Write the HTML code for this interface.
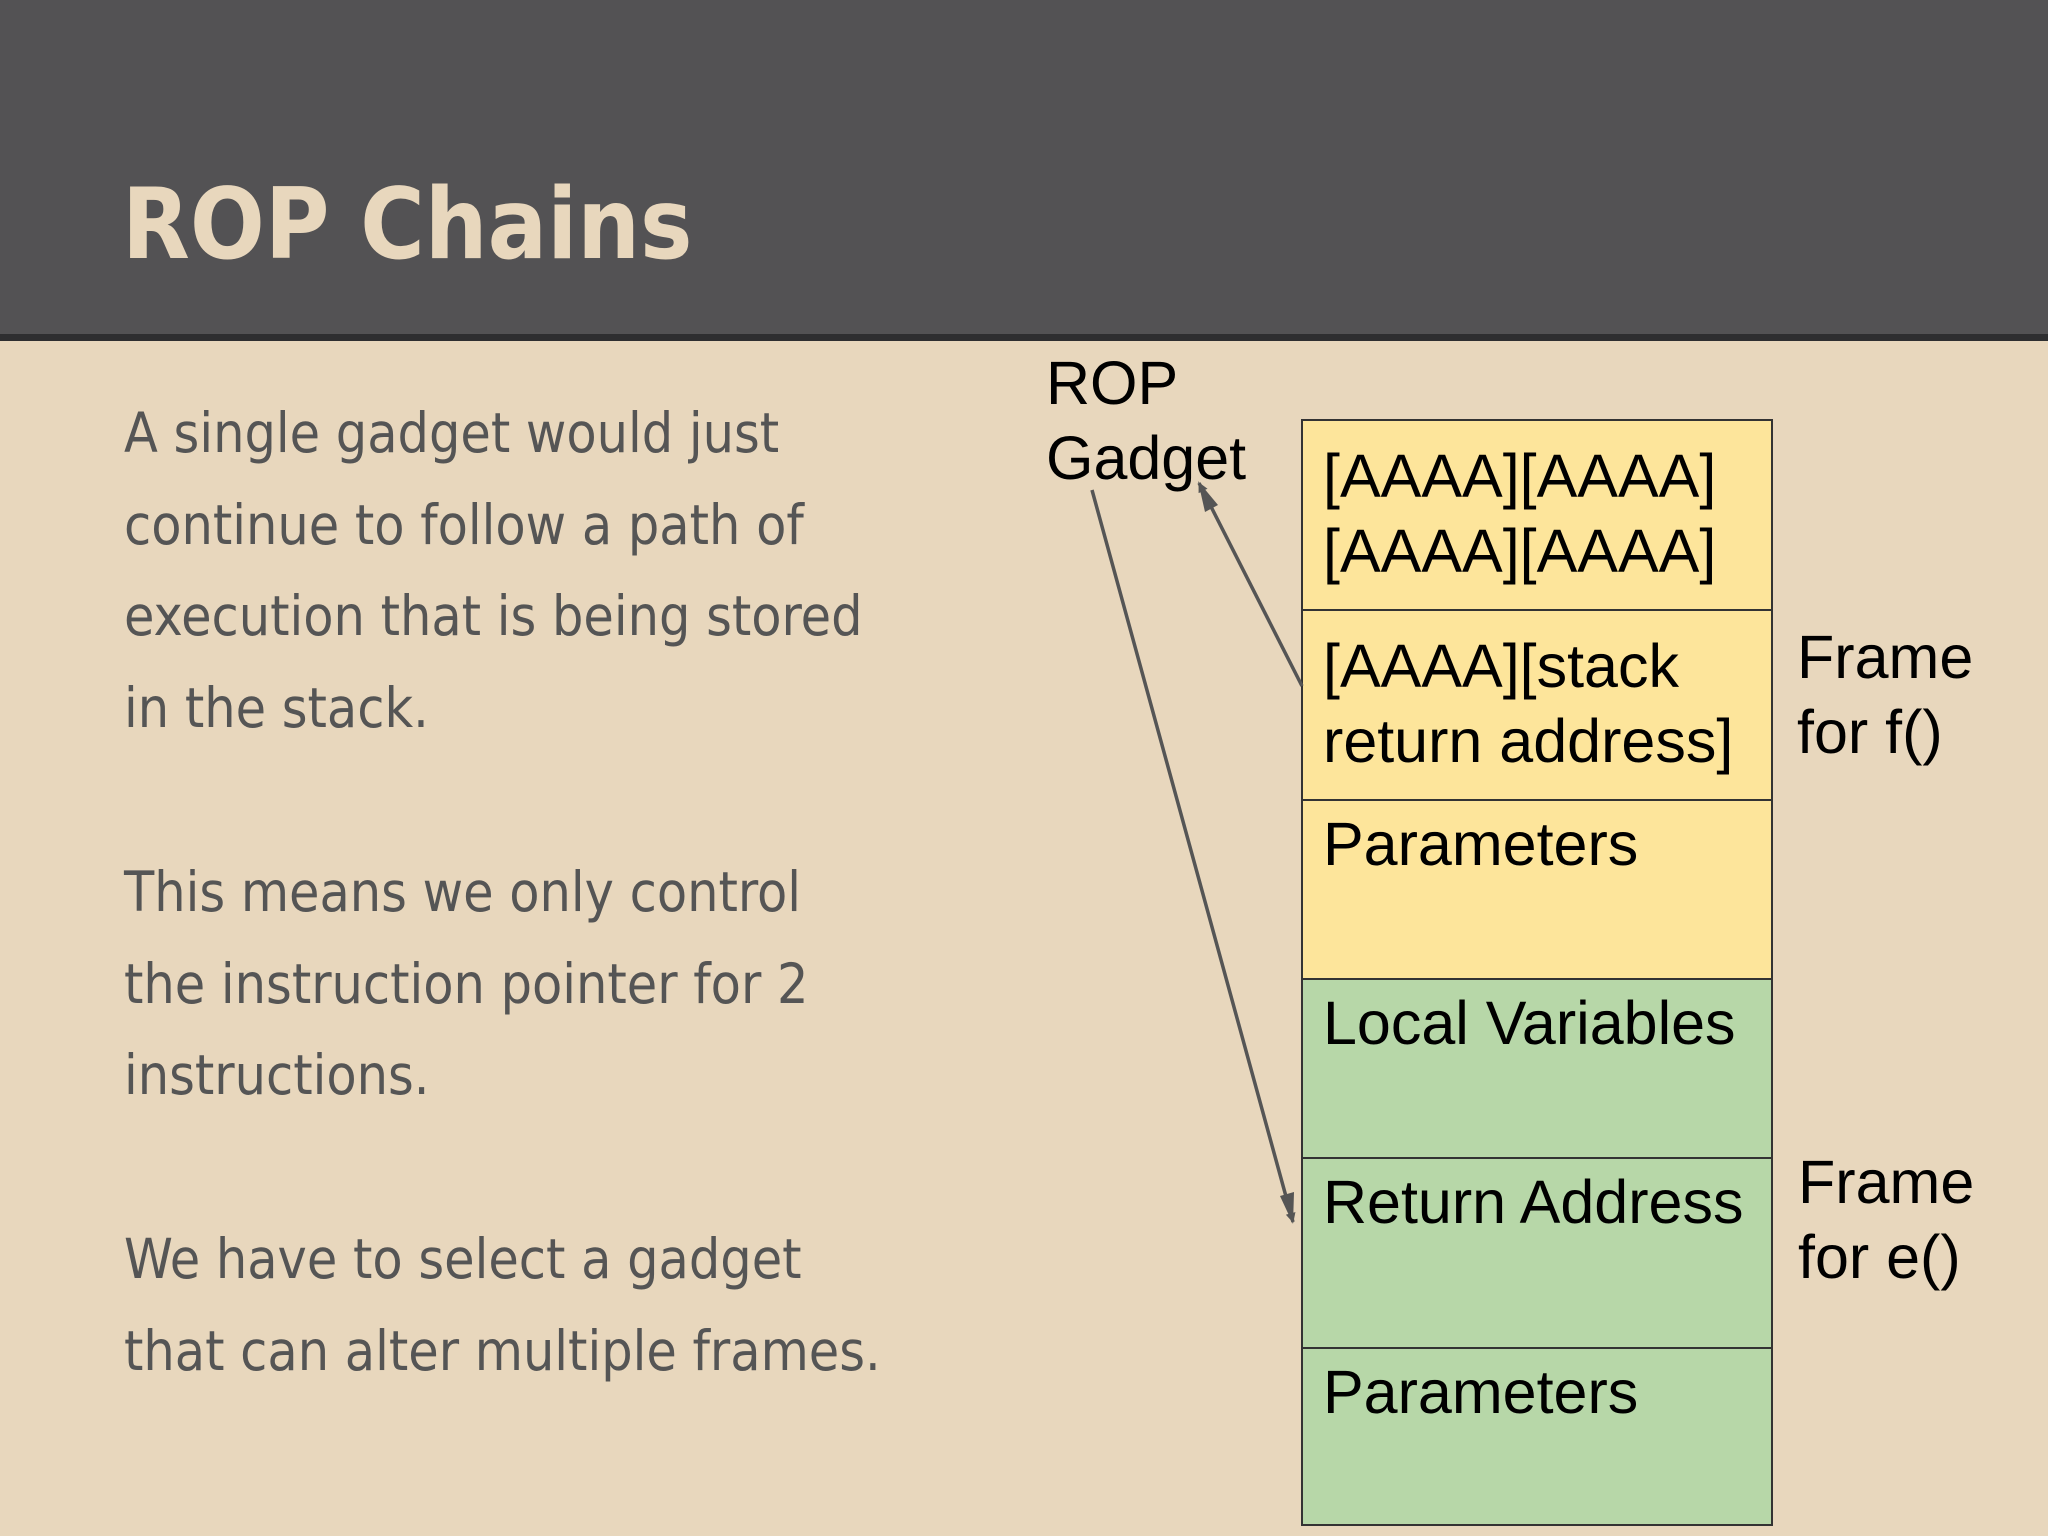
<!DOCTYPE html>
<html><head><style>
body{margin:0;width:2048px;height:1536px;background:#e8d7bd;position:relative;overflow:hidden}
.hdr{position:absolute;left:0;top:0;width:2048px;height:334px;background:#535254;border-bottom:7px solid #2e2e30}
.t{position:absolute;left:122px;top:176px;font:bold 98px "DejaVu Sans Condensed","DejaVu Sans",sans-serif;color:#e8d7bd;line-height:1}
.p{position:absolute;left:124px;font:55px "DejaVu Sans Condensed","DejaVu Sans",sans-serif;color:#555;line-height:91.5px;white-space:nowrap}
.b{position:absolute;left:1301px;width:472px;border:2px solid #333;box-sizing:border-box;font:61px "Liberation Sans",Arial,sans-serif;color:#000;padding:18px 0 0 20px;line-height:75px}
.y{background:#fde59b}.g{background:#b7d7a8}
.l{position:absolute;font:61px "Liberation Sans",Arial,sans-serif;color:#000;line-height:75px;white-space:nowrap}
</style></head><body>
<div class="hdr"></div>
<div class="t">ROP Chains</div>
<div class="p" style="top:388px">A single gadget would just<br>continue to follow a path of<br>execution that is being stored<br>in the stack.</div>
<div class="p" style="top:847px">This means we only control<br>the instruction pointer for 2<br>instructions.</div>
<div class="p" style="top:1214px">We have to select a gadget<br>that can alter multiple frames.</div>
<div class="b y" style="top:419px;height:192px">[AAAA][AAAA]<br>[AAAA][AAAA]</div>
<div class="b y" style="top:609px;height:192px">[AAAA][stack<br>return address]</div>
<div class="b y" style="top:799px;height:181px;padding-top:6px">Parameters</div>
<div class="b g" style="top:978px;height:181px;padding-top:6px">Local Variables</div>
<div class="b g" style="top:1157px;height:192px;padding-top:6px">Return Address</div>
<div class="b g" style="top:1347px;height:179px;padding-top:6px">Parameters</div>
<div class="l" style="left:1046px;top:346px">ROP<br>Gadget</div>
<div class="l" style="left:1797px;top:620px">Frame<br>for f()</div>
<div class="l" style="left:1798px;top:1145px">Frame<br>for e()</div>
<svg width="2048" height="1536" style="position:absolute;left:0;top:0">
<defs><marker id="a" markerWidth="10" markerHeight="10" refX="9" refY="5" orient="auto" markerUnits="userSpaceOnUse" viewBox="0 0 10 10"><path d="M0,0L10,5L0,10z" fill="#555"/></marker></defs>
<g stroke="#555" stroke-width="3.5" fill="none">
<line x1="1092" y1="490" x2="1293" y2="1222" marker-end="url(#a)"/>
<line x1="1302" y1="686" x2="1199" y2="483" marker-end="url(#a)"/>
</g>
<g fill="#555">
<path d="M1293,1224 L1280,1196 L1294,1192 Z"/>
<path d="M1198,481 L1218,505 L1205,512 Z"/>
</g>
</svg>
</body></html>
